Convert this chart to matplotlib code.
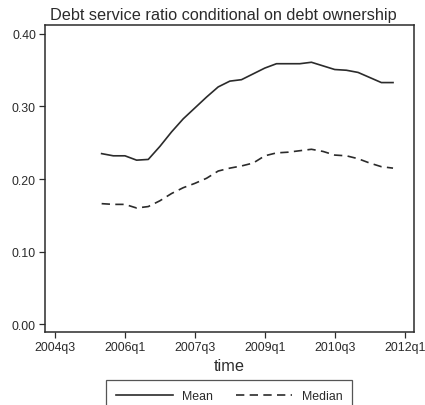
import matplotlib
matplotlib.use("Agg")
import matplotlib.pyplot as plt

plt.rcParams["font.family"] = ["Liberation Sans", "DejaVu Sans"]

# quarterly series, 2005q3 .. 2011q4
QUARTERS = [
    "2005q3", "2005q4", "2006q1", "2006q2", "2006q3", "2006q4",
    "2007q1", "2007q2", "2007q3", "2007q4", "2008q1", "2008q2",
    "2008q3", "2008q4", "2009q1", "2009q2", "2009q3", "2009q4",
    "2010q1", "2010q2", "2010q3", "2010q4", "2011q1", "2011q2",
    "2011q3", "2011q4",
]
MEAN = [
    0.235, 0.232, 0.232, 0.226, 0.227, 0.245, 0.265, 0.283, 0.298,
    0.313, 0.327, 0.335, 0.337, 0.345, 0.353, 0.359, 0.359, 0.359,
    0.361, 0.356, 0.351, 0.350, 0.347, 0.340, 0.333, 0.333,
]
MEDIAN = [
    0.166, 0.165, 0.165, 0.160, 0.162, 0.170, 0.180, 0.188, 0.194,
    0.201, 0.211, 0.215, 0.218, 0.222, 0.232, 0.236, 0.237, 0.239,
    0.241, 0.238, 0.233, 0.232, 0.228, 0.222, 0.217, 0.215,
]
XTICK_LABELS = ["2004q3", "2006q1", "2007q3", "2009q1", "2010q3", "2012q1"]
YTICKS = [0.0, 0.1, 0.2, 0.3, 0.4]


def qnum(s):
    # quarters since 2004q3
    year, q = s.split("q")
    return (int(year) - 2004) * 4 + int(q) - 3


x = [qnum(s) for s in QUARTERS]
xt = [qnum(s) for s in XTICK_LABELS]

ink = "#2b2b2b"
fig = plt.figure(figsize=(4.25, 4.06), dpi=100)
ax = fig.add_axes([45 / 425, 1 - 333 / 406, 369 / 425, 307 / 406])

ax.plot(x, MEAN, color=ink, lw=1.2, label="Mean")
ax.plot(x, MEDIAN, color=ink, lw=1.2, ls=(0, (5, 3.2)), label="Median")

ax.set_xlim(-0.86, 30.8)
ax.set_ylim(-0.011, 0.4124)
ax.set_xticks(xt)
ax.set_xticklabels(XTICK_LABELS)
ax.set_yticks(YTICKS)
ax.set_yticklabels([f"{v:.2f}" for v in YTICKS])

for sp in ax.spines.values():
    sp.set_color(ink)
    sp.set_linewidth(1.1)
ax.tick_params(direction="out", length=4.5, width=0.9, color=ink,
               labelsize=8.9, labelcolor=ink, pad=2)

fig.text(223 / 425, 1 - 20 / 406,
         "Debt service ratio conditional on debt ownership",
         ha="center", va="baseline", fontsize=11.7, color=ink)
ax.set_xlabel("time", fontsize=11.7, color=ink, labelpad=3.5)

leg = fig.legend(loc="upper center", bbox_to_anchor=(229 / 425, 1 - 381 / 406),
                 ncol=2, frameon=True, fancybox=False, fontsize=8.9,
                 edgecolor=ink, handlelength=4.6, handletextpad=0.75,
                 columnspacing=1.85, borderpad=0.8, borderaxespad=0,
                 labelcolor=ink)
leg.get_frame().set_linewidth(0.9)

fig.savefig("out.png", dpi=100)
